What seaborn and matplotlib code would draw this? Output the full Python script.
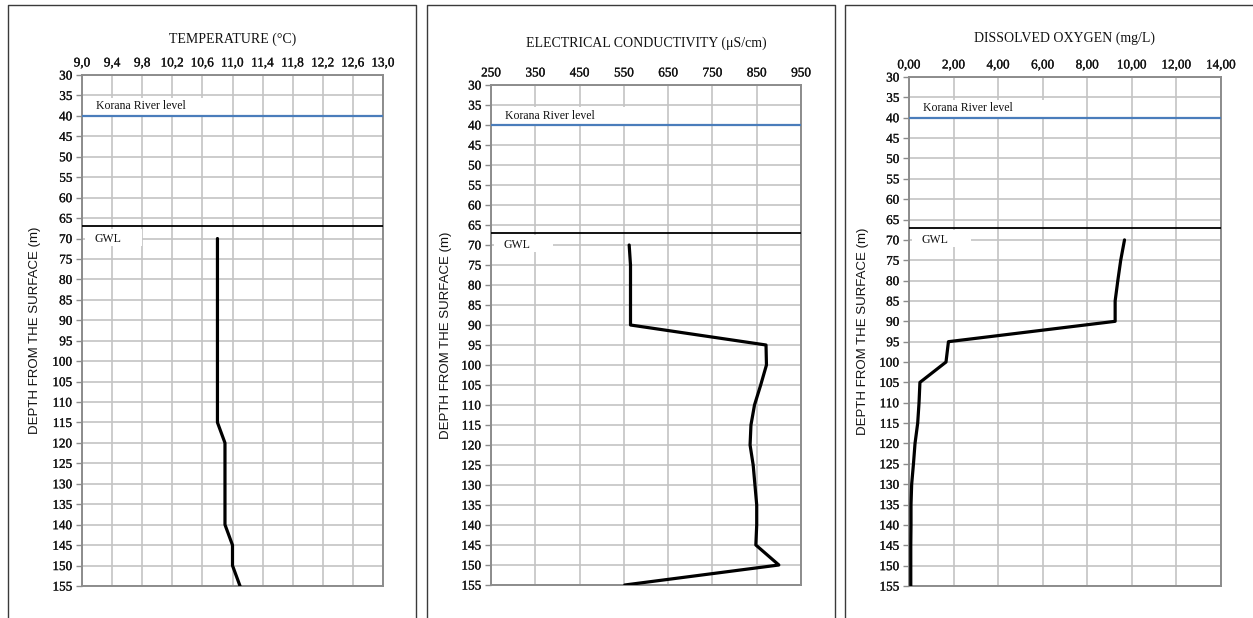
import matplotlib
matplotlib.use("Agg")
import matplotlib.pyplot as plt
import matplotlib.transforms as mtransforms
import matplotlib.patheffects as pe
from matplotlib.patches import Rectangle
from matplotlib.lines import Line2D
import seaborn as sns

# Borehole profile data (depth below surface, m)
depth = [70, 75, 80, 85, 90, 95, 100, 105, 110, 115,
         120, 125, 130, 135, 140, 145, 150, 155]
temperature = [10.8, 10.8, 10.8, 10.8, 10.8, 10.8, 10.8, 10.8, 10.8, 10.8,
               10.9, 10.9, 10.9, 10.9, 10.9, 11.0, 11.0, 11.1]
conductivity = [562, 565, 565, 565, 565, 871, 872, 859, 845, 837,
                835, 842, 846, 850, 850, 848, 900, 552]
oxygen = [9.67, 9.50, 9.37, 9.25, 9.25, 1.77, 1.66, 0.49, 0.45, 0.39,
          0.27, 0.20, 0.12, 0.09, 0.09, 0.08, 0.08, 0.08]

temp_ticks = [9.0, 9.4, 9.8, 10.2, 10.6, 11.0, 11.4, 11.8, 12.2, 12.6, 13.0]
ec_ticks = [250, 350, 450, 550, 650, 750, 850, 950]
do_ticks = [0, 2, 4, 6, 8, 10, 12, 14]
depth_ticks = list(range(30, 156, 5))

river_level = 40
gwl_level = 67

titles = ["TEMPERATURE (°C)", "ELECTRICAL CONDUCTIVITY (μS/cm)", "DISSOLVED OXYGEN (mg/L)"]
ylabel = "DEPTH FROM THE SURFACE (m)"

sns.set_theme(style="white")
plt.rcParams["font.family"] = ["Liberation Serif", "DejaVu Serif"]

W, H = 1253, 618
fig = plt.figure(figsize=(W / 100, H / 100), dpi=100)
fig.patch.set_facecolor("white")

ink = "#111111"
heavy = [pe.withStroke(linewidth=0.2, foreground=ink)]


def fmt_comma(decimals):
    return lambda v: f"{v:.{decimals}f}".replace(".", ",")


panels = [
    dict(values=temperature, ticks=temp_ticks, fmt=fmt_comma(1), title=titles[0],
         box=(82, 383, 75, 586), title_px=39, ylab_px=41, frame=(7.5, 415.5)),
    dict(values=conductivity, ticks=ec_ticks, fmt=lambda v: f"{v:d}", title=titles[1],
         box=(491, 801, 85, 585), title_px=43, ylab_px=452, frame=(426.5, 834.5)),
    dict(values=oxygen, ticks=do_ticks, fmt=fmt_comma(2), title=titles[2],
         box=(909, 1221, 77, 586), title_px=38, ylab_px=869, frame=(845, 1260)),
]

for p in panels:
    # panel frame (open at the bottom edge of the figure)
    fx0, fx1 = p["frame"]
    fig.add_artist(Line2D([fx0 / W, fx0 / W, fx1 / W, fx1 / W],
                          [-0.01, 1 - 5 / H, 1 - 5 / H, -0.01],
                          transform=fig.transFigure, color="#3a3a3a", lw=1.0))

    left, right, top, bottom = p["box"]
    ax = fig.add_axes([left / W, 1 - bottom / H, (right - left) / W, (bottom - top) / H])
    ax.set_facecolor("white")

    sns.lineplot(x=p["values"], y=depth, sort=False, estimator=None,
                 color="black", lw=2.3, ax=ax, zorder=4)

    ax.set_xlim(p["ticks"][0], p["ticks"][-1])
    ax.set_ylim(155, 30)
    ax.set_xticks(p["ticks"])
    ax.set_xticklabels([p["fmt"](v) for v in p["ticks"]])
    ax.set_yticks(depth_ticks)
    ax.set_yticklabels([str(d) for d in depth_ticks])
    ax.xaxis.tick_top()
    ax.tick_params(axis="x", length=0, pad=4, labelsize=9.5, colors=ink)
    ax.tick_params(axis="y", left=True, length=4, width=1.0, color="#8c8c8c",
                   pad=3, labelsize=9.5, labelcolor=ink)
    for lab in ax.get_xticklabels() + ax.get_yticklabels():
        lab.set_path_effects(heavy)
    ax.set_xlabel("")

    ax.grid(True, color="#c4c4c4", lw=1.2)
    ax.set_axisbelow(True)
    for s in ax.spines.values():
        s.set_color("#8c8c8c")
        s.set_linewidth(1.4)
        s.set_visible(True)

    # reference levels
    ax.axhline(river_level, color="#4a7dbb", lw=1.6, zorder=3)
    ax.axhline(gwl_level, color="black", lw=1.3, zorder=3)

    blend = mtransforms.blended_transform_factory(ax.transAxes, ax.transData)
    ax.add_patch(Rectangle((0.012, 35.6), 0.475, 4.2, transform=blend,
                           facecolor="white", edgecolor="none", zorder=1))
    ax.add_patch(Rectangle((0.01, 67.6), 0.19, 4.2, transform=blend,
                           facecolor="white", edgecolor="none", zorder=1))
    ax.text(0.045, 37.7, "Korana River level", transform=blend, fontsize=8.5,
            va="center", ha="left", color=ink, zorder=5)
    ax.text(0.04, 70.0, "GWL", transform=blend, fontsize=8.5,
            va="center", ha="left", color=ink, zorder=5)

    height = bottom - top
    width = right - left
    ax.set_title(p["title"], y=(bottom - p["title_px"]) / height, pad=0,
                 va="center", fontsize=10, color=ink)
    ax.set_ylabel(ylabel, fontsize=9.5, family=["Liberation Sans", "DejaVu Sans"],
                  color=ink)
    ax.yaxis.set_label_coords((p["ylab_px"] - left) / width, 0.5)

fig.savefig("out.png", dpi=100, facecolor="white")
